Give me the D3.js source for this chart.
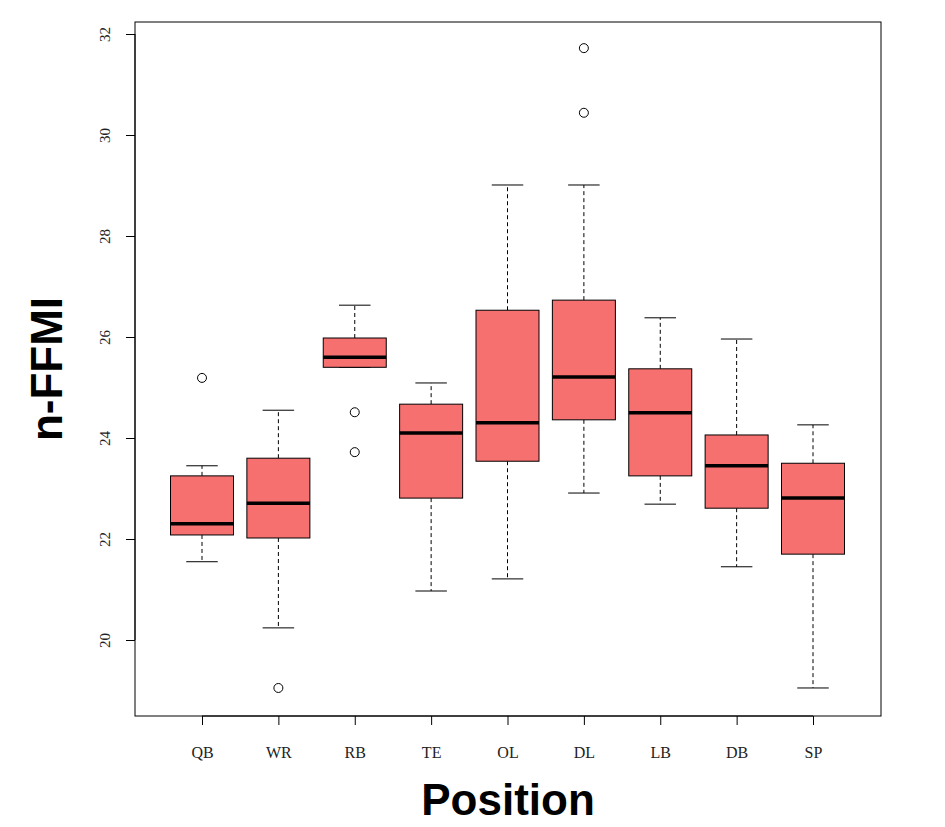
<!DOCTYPE html><html><head><script src="https://d3js.org/d3.v7.min.js"></script>
<style>body{margin:0;background:#fff}</style></head><body><svg id="c" width="945" height="827"></svg>
<script>
const categories=["QB","WR","RB","TE","OL","DL","LB","DB","SP"];
const whiskerLow=[21.55,20.24,25.4,20.97,21.21,22.91,22.69,21.45,19.05];
const q1=[22.08,22.02,25.4,22.81,23.54,24.36,23.25,22.61,21.70];
const median=[22.3,22.71,25.6,24.1,24.30,25.21,24.50,23.45,22.81];
const q3=[23.25,23.6,25.98,24.67,26.53,26.73,25.37,24.06,23.50];
const whiskerHigh=[23.45,24.55,26.63,25.09,29.01,29.01,26.38,25.96,24.26];
const outliers=[[25.19],[19.05],[24.51,23.72],[],[],[31.72,30.44],[],[],[]];
const yTicks=[20,22,24,26,28,30,32];
const svg=d3.select("#c");
const y=d3.scaleLinear().domain([20,32]).range([640,34]);
const x=d3.scalePoint().domain(categories).range([202,813]);
const w=63;
svg.append("rect").attr("x",135).attr("y",22).attr("width",746).attr("height",694).attr("fill","none").attr("stroke","#000");
const serif="Liberation Serif, serif";
const ya=svg.append("g").attr("transform","translate(135,0)").call(d3.axisLeft(y).tickValues(yTicks).tickSize(9));
ya.selectAll("text").attr("font-family",serif).attr("font-size",15).attr("x",0).attr("dy",0).attr("transform","translate(-30,0) rotate(-90)").attr("dy","0.35em").attr("text-anchor","middle").attr("fill","#222");
ya.select(".domain").attr("d",`M0,${y(20)}V${y(32)}`);
const xa=svg.append("g").attr("transform","translate(0,716)").call(d3.axisBottom(x).tickSize(9).tickPadding(22));
xa.select(".domain").attr("d",`M${x("QB")},0H${x("SP")}`);
xa.selectAll("text").attr("font-family",serif).attr("font-size",16).attr("fill","#222");
categories.forEach((c,i)=>{
  const cx=x(c),g=svg.append("g");
  g.append("line").attr("x1",cx).attr("x2",cx).attr("y1",y(q3[i])).attr("y2",y(whiskerHigh[i])).attr("stroke","#000").attr("stroke-dasharray","4,3");
  g.append("line").attr("x1",cx).attr("x2",cx).attr("y1",y(q1[i])).attr("y2",y(whiskerLow[i])).attr("stroke","#000").attr("stroke-dasharray","4,3");
  [whiskerHigh[i],whiskerLow[i]].forEach(v=>g.append("line").attr("x1",cx-w/4).attr("x2",cx+w/4).attr("y1",y(v)).attr("y2",y(v)).attr("stroke","#000"));
  g.append("rect").attr("x",cx-w/2).attr("width",w).attr("y",y(q3[i])).attr("height",y(q1[i])-y(q3[i])).attr("fill","#f77070").attr("stroke","#000");
  g.append("line").attr("x1",cx-w/2).attr("x2",cx+w/2).attr("y1",y(median[i])).attr("y2",y(median[i])).attr("stroke","#000").attr("stroke-width",3.5);
  outliers[i].forEach(v=>g.append("circle").attr("cx",cx).attr("cy",y(v)).attr("r",4.5).attr("fill","none").attr("stroke","#000"));
});
svg.append("text").attr("x",508).attr("y",815).attr("text-anchor","middle").attr("font-family","Liberation Sans, Arial, sans-serif").attr("font-weight","bold").attr("font-size",44).text("Position");
svg.append("text").attr("transform","translate(62,369) rotate(-90)").attr("text-anchor","middle").attr("font-family","Liberation Sans, Arial, sans-serif").attr("font-weight","bold").attr("font-size",44).text("n-FFMI");
</script></body></html>
